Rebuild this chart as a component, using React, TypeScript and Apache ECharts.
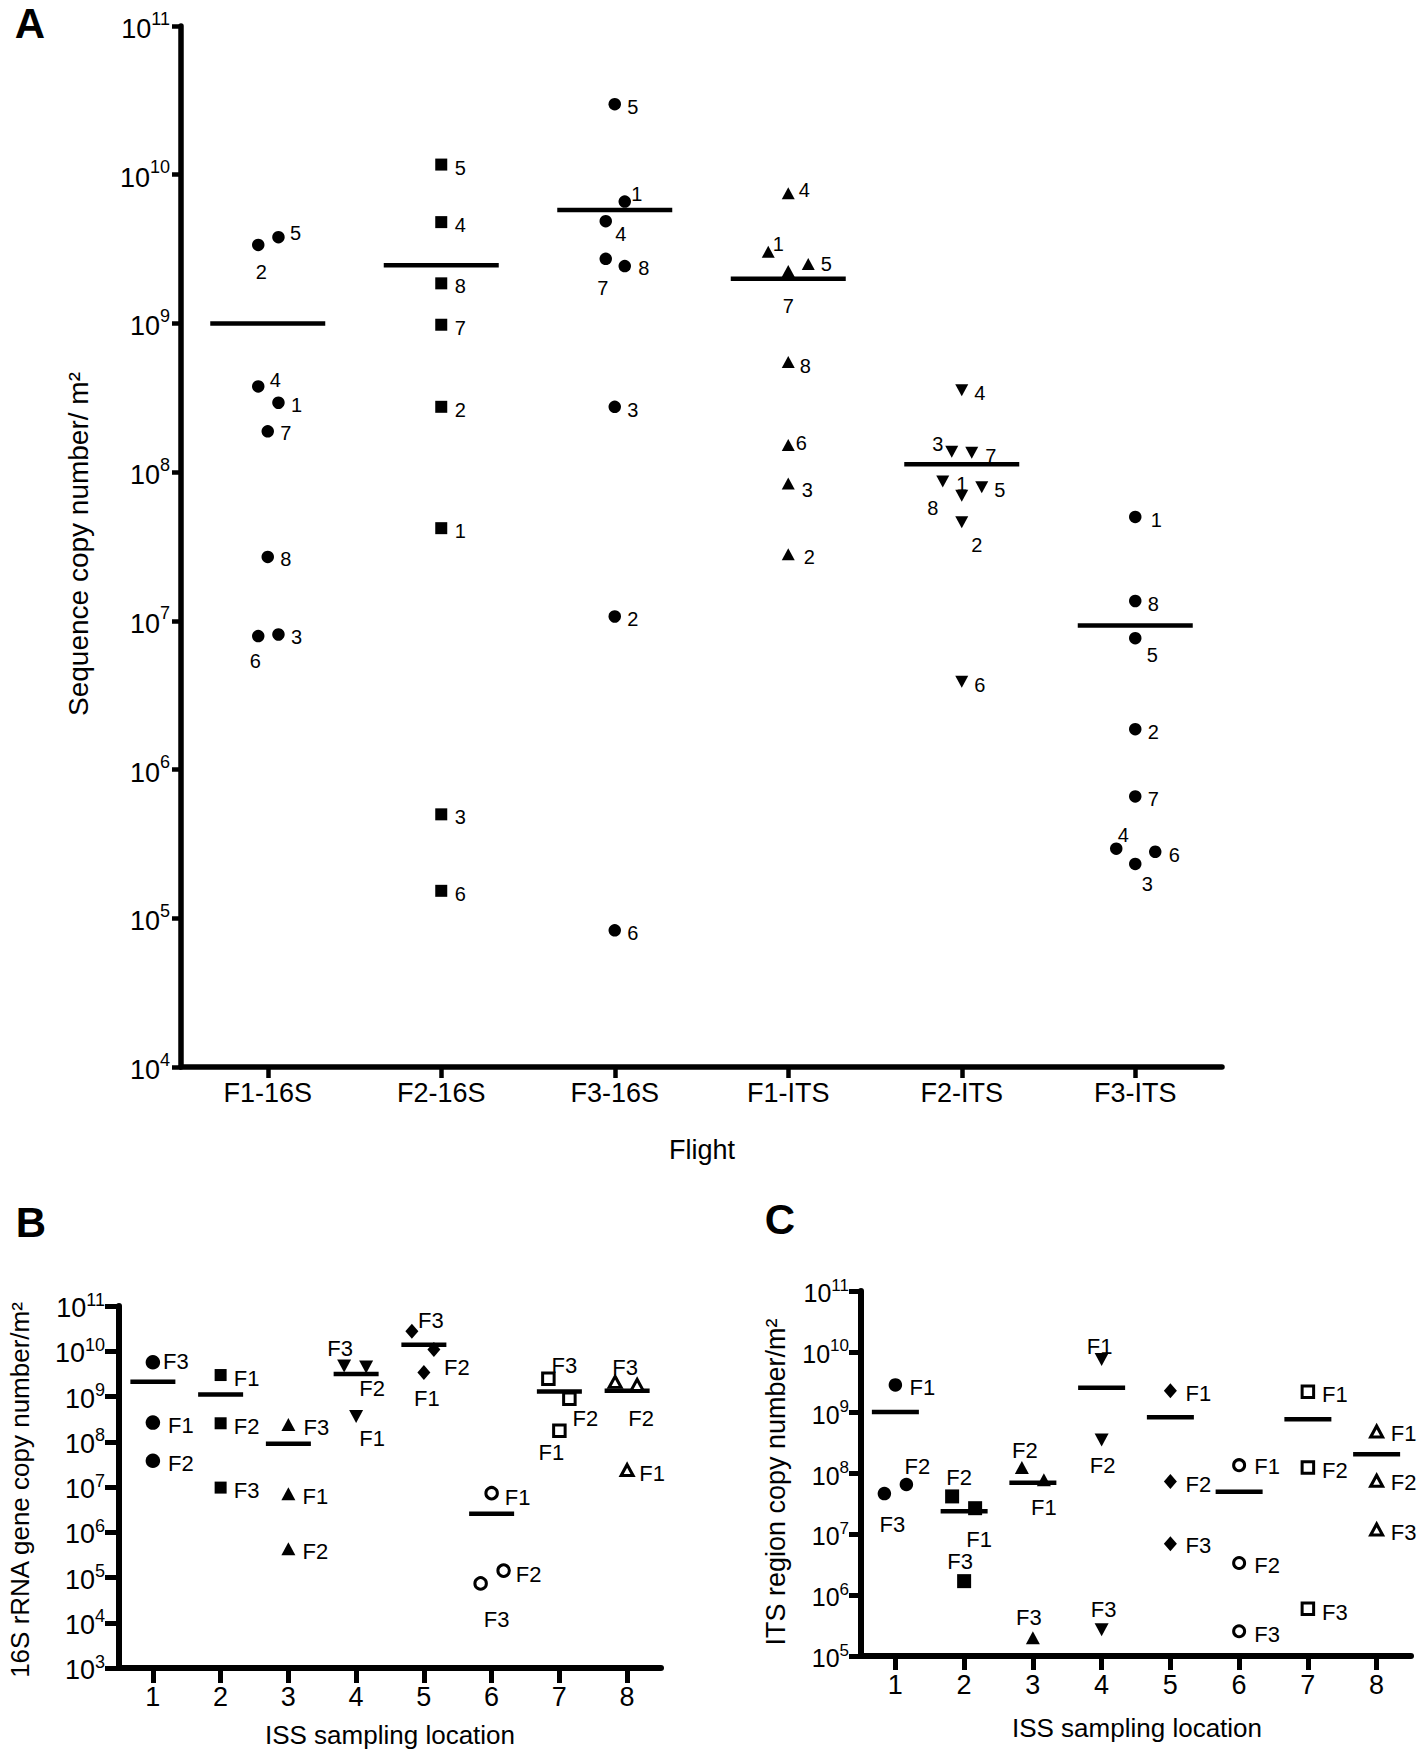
import React, { useEffect, useRef } from 'react';
import * as echarts from 'echarts';

const FONT = '"Liberation Sans", Arial, Helvetica, sans-serif';

// ---------------- Panel A data ----------------
const flightCategories = ['F1-16S', 'F2-16S', 'F3-16S', 'F1-ITS', 'F2-ITS', 'F3-ITS'];
const locationIds = ['1', '2', '3', '4', '5', '6', '7', '8'];
// values per location 1..8
const aF1_16S = [2.93e8, 3.37e9, 8.1e6, 3.77e8, 3.8e9, 7.9e6, 1.88e8, 2.69e7];
const aF2_16S = [4.2e7, 2.75e8, 5.0e5, 4.8e9, 1.17e10, 1.53e5, 9.8e8, 1.86e9];
const aF3_16S = [6.6e9, 1.07e7, 2.75e8, 4.87e9, 2.98e10, 8.3e4, 2.72e9, 2.43e9];
const aF1_ITS = [3.03e9, 2.8e7, 8.4e7, 7.5e9, 2.51e9, 1.52e8, 2.25e9, 5.5e8];
const aF2_ITS = [6.95e7, 4.6e7, 1.37e8, 3.55e8, 7.9e7, 3.9e6, 1.35e8, 8.65e7];
const aF3_ITS = [5.0e7, 1.87e6, 2.32e5, 2.94e5, 7.65e6, 2.8e5, 6.6e5, 1.36e7];
const aCentre = [1.0e9, 2.46e9, 5.8e9, 2.0e9, 1.13e8, 9.3e6];

// ---------------- Panel B data ----------------
const locationCats = ['1', '2', '3', '4', '5', '6', '7', '8'];
const flightTags = ['F1', 'F2', 'F3'];
const bF1 = [2.65e8, 2.98e9, 7.1e6, 3.6e8, 3.4e9, 7.3e6, 1.74e8, 2.37e7];
const bF2 = [3.8e7, 2.56e8, 4.3e5, 4.5e9, 1.1e10, 1.42e5, 8.9e8, 1.8e9];
const bF3 = [5.7e9, 9.7e6, 2.4e8, 4.7e9, 2.77e10, 7.4e4, 2.47e9, 2.1e9];
const bCentre = [2.13e9, 1.11e9, 9.0e7, 3.15e9, 1.39e10, 2.55e6, 1.29e9, 1.34e9];

// ---------------- Panel C data ----------------
const cF1 = [2.86e9, 2.69e7, 7.9e7, 7.5e9, 2.3e9, 1.37e8, 2.2e9, 4.9e8];
const cF2 = [6.6e7, 4.2e7, 1.26e8, 3.56e8, 7.4e7, 3.38e6, 1.26e8, 7.6e7];
const cF3 = [4.67e7, 1.7e6, 2.0e5, 2.7e5, 7.0e6, 2.55e5, 6.0e5, 1.2e7];
const cCentre = [1.03e9, 2.4e7, 7.06e7, 2.57e9, 8.4e8, 5.0e7, 7.8e8, 2.07e8];

// ---------------- Layout (pixel jitter / label placement) ----------------
const aJitter = [
  [10.7, -9.5, 10.7, -9.5, 10.7, -9.5, 0, 0],
  [0, 0, 0, 0, 0, 0, 0, 0],
  [10, 0, 0, -9, 0, 0, -9, 10],
  [-20, 0, 0, 0, 20, 0, 0, 0],
  [0, 0, -10, 0, 20, 0, 10, -19],
  [0, 0, 0, -19, 0, 20, 0, 0],
];
const aLabelOff = [
  [[18, 2], [3, 27], [18, 3], [17, -6], [17, -4], [-3, 25], [18, 2], [18, 2]],
  [[19, 3], [19, 3], [19, 3], [19, 3], [19, 3], [19, 3], [19, 3], [19, 3]],
  [[12, -8], [18, 3], [18, 3], [15, 13], [18, 3], [18, 3], [-3, 29], [19, 2]],
  [[10, -8], [21, 3], [19, 7], [16, -3], [18, 0], [13, -2], [0, 35], [17, 4]],
  [[0, -12], [15, 23], [-14, -8], [18, 3], [18, 3], [18, 3], [19, 3], [-10, 26]],
  [[21, 3], [18, 3], [12, 20], [7, -14], [17, 17], [19, 3], [18, 3], [18, 3]],
];
// per location, [F1, F2, F3]
const bJitter = [
  [0, 0, 0], [0, 0, 0], [0, 0, 0], [0, 10, -12],
  [0, 10, -12], [0, 12, -11], [0, 10, -11], [0, 10, -12],
];
const bLabelOff = [
  [[28, 3], [28, 3], [23, -1]],
  [[26, 3], [26, 3], [26, 3]],
  [[27, 3], [27, 3], [28, 3]],
  [[16, 22], [6, 22], [-4, -18]],
  [[3, 26], [23, 18], [19, -11]],
  [[26, 4], [25, 4], [16, 36]],
  [[-8, 22], [16, 20], [16, -13]],
  [[25, 3], [4, 34], [10, -14]],
];
const cJitter = [
  [0, 11, -11], [11, -12, 0], [11, -11, 0], [0, 0, 0],
  [0, 0, 0], [0, 0, 0], [0, 0, 0], [0, 0, 0],
];
const cLabelOff = [
  [[27, 3], [11, -18], [8, 31]],
  [[4, 31], [7, -19], [-4, -20]],
  [[0, 28], [3, -17], [-4, -20]],
  [[-2, -13], [1, 26], [2, -20]],
  [[28, 3], [28, 3], [28, 2]],
  [[28, 1], [28, 3], [28, 3]],
  [[27, 3], [27, 3], [27, 4]],
  [[27, 2], [27, 2], [27, 3]],
];

const DOWN = 'path://M0,0L14,0L7,12Z';
const aSymbols = ['circle', 'rect', 'circle', 'triangle', DOWN, 'circle'];
const aSizes: any[] = [12.5, 12, 12.5, [13, 12], [13, 12], 12.5];

const locMarkers = [
  { symbol: 'circle', open: false },
  { symbol: 'rect', open: false },
  { symbol: 'triangle', open: false },
  { symbol: DOWN, open: false },
  { symbol: 'diamond', open: false },
  { symbol: 'circle', open: true },
  { symbol: 'rect', open: true },
  { symbol: 'triangle', open: true },
];
const bSizes: any[] = [14.5, 12, [14, 13], [14, 13], [13, 15], 11.5, 11.5, [12, 11]];
const cSizes: any[] = [13.5, 14, [14, 13], [14, 13], [13, 15], 11, 11.5, [12, 11]];

const tickFormatter = (v: number) => {
  const e = Math.round(Math.log10(v));
  return '{b|10}{s|' + e + '}';
};
const richFor = (b: number, s: number, lift: number) => ({
  b: { fontSize: b, lineHeight: b + lift, verticalAlign: 'bottom', fontFamily: FONT, color: '#000' },
  s: { fontSize: s, lineHeight: s, verticalAlign: 'top', fontFamily: FONT, color: '#000' },
});

function makeX(gridIndex: number, data: string[], lw: number, tickLen: number, fontSize: number, margin: number) {
  return {
    gridIndex,
    type: 'category',
    data,
    axisLine: { show: true, lineStyle: { color: '#000', width: lw } },
    axisTick: { show: true, alignWithLabel: true, length: tickLen, lineStyle: { color: '#000', width: lw - 1 } },
    axisLabel: { color: '#000', fontSize, fontFamily: FONT, margin },
    splitLine: { show: false },
  };
}
function makeY(gridIndex: number, min: number, max: number, lw: number, tickLen: number, b: number, s: number, lift: number, margin: number, split: number) {
  return {
    gridIndex,
    type: 'log',
    logBase: 10,
    min,
    max,
    splitNumber: split,
    axisLine: { show: true, lineStyle: { color: '#000', width: lw } },
    axisTick: { show: true, length: tickLen, lineStyle: { color: '#000', width: lw - 1 } },
    axisLabel: { formatter: tickFormatter, rich: richFor(b, s, lift), margin, fontFamily: FONT },
    splitLine: { show: false },
    minorTick: { show: false },
    minorSplitLine: { show: false },
  };
}

function buildOption() {
  const series: any[] = [];
  // ---- Panel A centre bars
  series.push({
    type: 'scatter', xAxisIndex: 0, yAxisIndex: 0, silent: true,
    symbol: 'rect', symbolSize: [115, 4.5],
    itemStyle: { color: '#000', opacity: 1 },
    data: aCentre.map((m, g) => [g, m]),
  });
  const aGroups = [aF1_16S, aF2_16S, aF3_16S, aF1_ITS, aF2_ITS, aF3_ITS];
  aGroups.forEach((vals, g) => {
    series.push({
      type: 'scatter', xAxisIndex: 0, yAxisIndex: 0, silent: true,
      symbol: aSymbols[g], symbolSize: aSizes[g],
      itemStyle: { color: '#000', opacity: 1 },
      label: { show: true, position: 'inside', color: '#000', fontSize: 20, fontFamily: FONT, formatter: '{b}' },
      data: vals.map((v, i) => ({
        name: locationIds[i],
        value: [g, v],
        symbolOffset: [aJitter[g][i], 0],
        label: { offset: aLabelOff[g][i] },
      })),
    });
  });

  const addLocPanel = (axisIdx: number, f1: number[], f2: number[], f3: number[], centre: number[], jit: number[][], off: number[][][], sizes: any[], barW: number) => {
    series.push({
      type: 'scatter', xAxisIndex: axisIdx, yAxisIndex: axisIdx, silent: true,
      symbol: 'rect', symbolSize: [barW, 4.5],
      itemStyle: { color: '#000', opacity: 1 },
      data: centre.map((m, i) => [i, m]),
    });
    locMarkers.forEach((mk, i) => {
      const vals = [f1[i], f2[i], f3[i]];
      series.push({
        type: 'scatter', xAxisIndex: axisIdx, yAxisIndex: axisIdx, silent: true,
        symbol: mk.symbol, symbolSize: sizes[i],
        itemStyle: mk.open
          ? { color: '#fff', borderColor: '#000', borderWidth: 3, opacity: 1 }
          : { color: '#000', opacity: 1 },
        label: { show: true, position: 'inside', color: '#000', fontSize: 22, fontFamily: FONT, formatter: '{b}' },
        data: vals.map((v, f) => ({
          name: flightTags[f],
          value: [i, v],
          symbolOffset: [jit[i][f], 0],
          label: { offset: off[i][f] },
        })),
      });
    });
  };
  addLocPanel(1, bF1, bF2, bF3, bCentre, bJitter, bLabelOff, bSizes, 45);
  addLocPanel(2, cF1, cF2, cF3, cCentre, cJitter, cLabelOff, cSizes, 47);

  const txt = (text: string, x: number, y: number, fontSize: number, bold = false, rotation = 0) => ({
    type: 'text', x, y, rotation, silent: true,
    style: { text, fontSize, fontFamily: FONT, fill: '#000', align: 'center', verticalAlign: 'middle', fontWeight: bold ? 'bold' : 'normal' },
  });

  return {
    animation: false,
    backgroundColor: '#fff',
    textStyle: { fontFamily: FONT, color: '#000' },
    grid: [
      { left: 181, top: 26, width: 1041, height: 1041, containLabel: false },
      { left: 119, top: 1306, width: 542, height: 362, containLabel: false },
      { left: 861, top: 1291, width: 550, height: 365, containLabel: false },
    ],
    xAxis: [
      makeX(0, flightCategories, 5.5, 11, 27, 12),
      makeX(1, locationCats, 6, 15, 27, 15),
      makeX(2, locationCats, 6, 14, 27, 15),
    ],
    yAxis: [
      makeY(0, 1e4, 1e11, 5.5, 9, 27, 18, 6, 11, 7),
      makeY(1, 1e3, 1e11, 6, 14, 27, 18, 4, 14, 8),
      makeY(2, 1e5, 1e11, 6, 12, 25, 17, 4, 12, 6),
    ],
    series,
    graphic: [
      txt('A', 30, 23, 42, true),
      txt('Sequence copy number/ m²', 78, 544, 28, false, Math.PI / 2),
      txt('Flight', 702, 1150, 27),
      txt('B', 31, 1222, 42, true),
      txt('16S rRNA gene copy number/m²', 20, 1490, 26, false, Math.PI / 2),
      txt('ISS sampling location', 390, 1735, 26),
      txt('C', 780, 1219, 42, true),
      txt('ITS region copy number/m²', 776, 1482, 27, false, Math.PI / 2),
      txt('ISS sampling location', 1137, 1728, 26),
    ],
  };
}

export default function App() {
  const ref = useRef<HTMLDivElement>(null);
  useEffect(() => {
    document.body.style.margin = '0';
    if (!ref.current) return;
    const chart = echarts.init(ref.current, undefined, { renderer: 'svg' });
    chart.setOption(buildOption() as any);
    return () => chart.dispose();
  }, []);
  return <div ref={ref} style={{ width: 1418, height: 1751, background: '#fff' }} />;
}
